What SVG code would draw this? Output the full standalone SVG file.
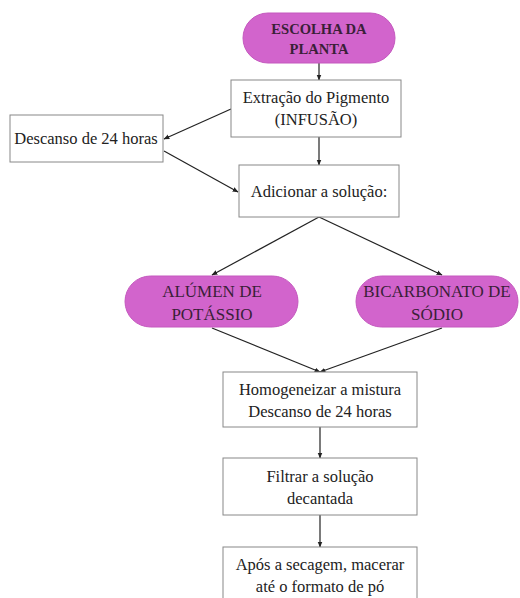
<svg xmlns="http://www.w3.org/2000/svg" width="520" height="598" viewBox="0 0 520 598">
<defs>
<marker id="ah" viewBox="0 0 10 10" refX="9" refY="5" markerWidth="5" markerHeight="5" orient="auto-start-reverse">
<path d="M0,1 L10,5 L0,9 z" fill="#222"/>
</marker>
<style>
.box{fill:#fff;stroke:#888;stroke-width:1}
.pill{fill:#d264cc;stroke:#c458be;stroke-width:1}
.t{font-family:"Liberation Serif","Times New Roman",serif;font-size:16.5px;fill:#222;text-anchor:middle}
.pb{font-family:"Liberation Serif","Times New Roman",serif;font-size:14.6px;font-weight:bold;fill:#3a1f38;text-anchor:middle}
.pr{font-family:"Liberation Serif","Times New Roman",serif;font-size:17px;fill:#3a1f38;text-anchor:middle}
.c{stroke:#222;stroke-width:1.2;fill:none}
.ca{stroke:#222;stroke-width:1.2;fill:none;marker-end:url(#ah)}
</style>
</defs>
<rect width="520" height="598" fill="#fff"/>
<g id="connectors">
<line class="ca" x1="319" y1="63" x2="319" y2="80"/>
<line class="ca" x1="231" y1="109" x2="164" y2="139"/>
<line class="ca" x1="164" y1="151" x2="238" y2="192"/>
<line class="ca" x1="319" y1="137" x2="319" y2="165"/>
<line class="ca" x1="319" y1="217" x2="212" y2="275"/>
<line class="ca" x1="319" y1="217" x2="442" y2="275"/>
<line class="ca" x1="212" y1="328" x2="320" y2="372"/>
<line class="ca" x1="442" y1="328" x2="320" y2="372"/>
<line class="ca" x1="320" y1="427" x2="320" y2="458"/>
<line class="ca" x1="320" y1="515" x2="320" y2="547"/>
</g>
<g id="escolha">
<rect class="pill" x="243" y="13" width="152" height="50" rx="25"/>
<text class="pb" x="319" y="34">ESCOLHA DA</text>
<text class="pb" x="319" y="54">PLANTA</text>
</g>
<g id="extracao">
<rect class="box" x="231" y="80" width="170" height="57"/>
<text class="t" x="316" y="103">Extração do Pigmento</text>
<text class="t" x="316" y="125">(INFUSÃO)</text>
</g>
<g id="descanso">
<rect class="box" x="10" y="115" width="153" height="47"/>
<text class="t" x="86" y="144">Descanso de 24 horas</text>
</g>
<g id="adicionar">
<rect class="box" x="239" y="165" width="160" height="52"/>
<text class="t" x="319" y="197">Adicionar a solução:</text>
</g>
<g id="alumen">
<rect class="pill" x="125" y="276" width="173" height="51" rx="25.5"/>
<text class="pr" x="212" y="297">ALÚMEN DE</text>
<text class="pr" x="212" y="320">POTÁSSIO</text>
</g>
<g id="bicarbonato">
<rect class="pill" x="356" y="276" width="162" height="51" rx="25.5"/>
<text class="pr" x="437" y="297">BICARBONATO DE</text>
<text class="pr" x="437" y="320">SÓDIO</text>
</g>
<g id="homogeneizar">
<rect class="box" x="223" y="372" width="194" height="55"/>
<text class="t" x="320" y="395">Homogeneizar a mistura</text>
<text class="t" x="320" y="417">Descanso de 24 horas</text>
</g>
<g id="filtrar">
<rect class="box" x="223" y="458" width="194" height="57"/>
<text class="t" x="320" y="482">Filtrar a solução</text>
<text class="t" x="320" y="504">decantada</text>
</g>
<g id="apos">
<rect class="box" x="223" y="547" width="194" height="60"/>
<text class="t" x="320" y="570">Após a secagem, macerar</text>
<text class="t" x="320" y="592">até o formato de pó</text>
</g>
</svg>
